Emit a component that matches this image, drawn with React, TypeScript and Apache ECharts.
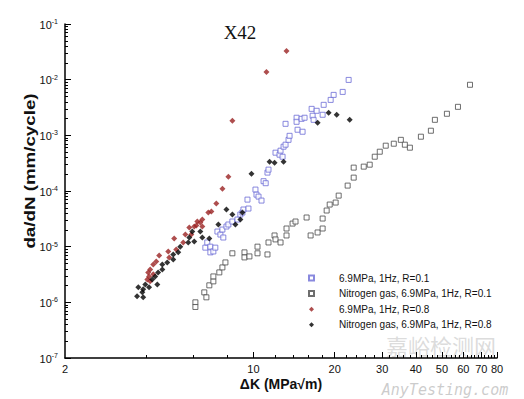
import React, { useEffect, useRef } from "react";
import * as echarts from "echarts";

// ---- data (ΔK in MPa√m, da/dN in mm/cycle) ----
const seriesNames = [
  "6.9MPa, 1Hz, R=0.1",
  "Nitrogen gas, 6.9MPa, 1Hz, R=0.1",
  "6.9MPa, 1Hz, R=0.8",
  "Nitrogen gas, 6.9MPa, 1Hz, R=0.8",
];

const h2R01: [number, number][] = [
  [6.63, 9.6e-6], [6.74, 1.19e-5], [6.92, 1.0e-5], [6.92, 7.9e-6], [7.1, 8.2e-6], [7.22, 9.6e-6],
  [7.35, 1.87e-5], [7.54, 1.65e-5], [7.67, 2.03e-5], [7.73, 1.46e-5], [7.94, 2.3e-5], [8.07, 2.5e-5],
  [8.35, 2.83e-5], [8.72, 3.07e-5], [8.94, 3.78e-5], [9.1, 4.1e-5], [9.18, 4.65e-5], [9.58, 4.84e-5],
  [9.5, 7.0e-5], [10.17, 1.06e-4], [10.26, 8.6e-5], [10.44, 7.93e-5], [10.71, 6.73e-5], [10.9, 1.5e-4],
  [11.1, 1.38e-4], [11.27, 2.14e-4], [11.37, 2.42e-4], [12.07, 4.88e-4], [12.49, 4.49e-4], [12.6, 5.3e-4],
  [12.82, 4.13e-4], [12.93, 6.25e-4], [13.15, 6.79e-4], [13.49, 8.3e-4], [13.61, 9.8e-4], [13.15, 1.61e-3],
  [14.45, 2.07e-3], [14.45, 1.75e-3], [14.57, 1.26e-3], [15.21, 1.16e-3], [15.08, 1.98e-3], [15.47, 2.07e-3],
  [16.43, 2.99e-3], [16.57, 2.25e-3], [16.71, 1.9e-3], [17.15, 2.76e-3], [18.05, 2.34e-3], [18.21, 3.53e-3],
  [19.33, 4.33e-3], [19.83, 5.33e-3], [21.42, 6.03e-3], [22.54, 9.9e-3],
];

const n2R01: [number, number][] = [
  [6.09, 1.0e-6], [6.09, 8.25e-7], [6.57, 1.51e-6], [6.69, 1.23e-6], [6.86, 2.02e-6], [7.1, 2.38e-6],
  [7.1, 2.92e-6], [7.47, 3.45e-6], [7.67, 4.24e-6], [7.87, 5.21e-6], [8.35, 7.6e-6], [9.26, 7.9e-6],
  [9.26, 6.41e-6], [9.66, 6.68e-6], [10.35, 1.0e-5], [10.35, 7.6e-6], [11.27, 7.25e-6], [11.37, 1.19e-5],
  [11.97, 1.59e-5], [12.07, 1.35e-5], [12.6, 1.19e-5], [13.26, 2.12e-5], [13.26, 1.59e-5], [13.96, 2.6e-5],
  [14.32, 2.83e-5], [15.74, 3.34e-5], [16.29, 1.59e-5], [17.29, 1.8e-5], [18.05, 2.12e-5], [18.05, 3.2e-5],
  [18.68, 4.46e-5], [19.17, 5.71e-5], [20.17, 6.2e-5], [20.7, 8.26e-5], [22.35, 1.25e-4], [23.53, 1.74e-4],
  [23.53, 2.63e-4], [25.64, 2.74e-4], [26.98, 2.97e-4], [28.17, 4.13e-4], [29.4, 5.08e-4], [30.94, 6.52e-4],
  [33.14, 7.07e-4], [35.2, 8.3e-4], [36.42, 6.79e-4], [38.02, 6.0e-4], [41.77, 9.45e-4], [45.49, 1.21e-3],
  [47.07, 1.9e-3], [52.16, 2.44e-3], [57.32, 3.25e-3], [63.52, 8.09e-3],
];

const h2R08: [number, number][] = [
  [4.04, 2.58e-6], [4.1, 2.92e-6], [4.14, 2.38e-6], [4.14, 3.9e-6], [4.07, 3.45e-6], [4.25, 3.18e-6],
  [4.25, 4.8e-6], [4.36, 5.43e-6], [4.47, 6.96e-6], [4.83, 8.2e-6], [4.87, 6.41e-6], [5.17, 8.9e-6],
  [5.08, 1.4e-5], [5.49, 1.19e-5], [5.59, 1.65e-5], [5.88, 1.65e-5], [5.78, 2.21e-5], [6.03, 2.3e-5],
  [6.14, 2.4e-5], [6.35, 2.71e-5], [6.46, 3.07e-5], [6.19, 2.83e-5], [6.46, 2.3e-5], [6.8, 4.1e-5],
  [6.98, 4.28e-5], [7.28, 5.95e-5], [7.67, 1.1e-4], [8.07, 1.81e-4], [8.35, 1.83e-3], [11.17, 1.38e-2],
  [13.26, 3.28e-2],
];

const n2R08: [number, number][] = [
  [3.7, 1.28e-6], [3.9, 1.23e-6], [3.74, 1.86e-6], [3.9, 1.71e-6], [3.87, 1.51e-6], [3.97, 2.1e-6],
  [4.1, 1.86e-6], [4.21, 2.58e-6], [4.32, 2.92e-6], [4.4, 2.1e-6], [4.43, 3.45e-6], [4.59, 3.9e-6],
  [4.59, 4.8e-6], [4.79, 5.21e-6], [5.04, 5.9e-6], [5.04, 7.25e-6], [5.26, 7.9e-6], [5.35, 1.0e-5],
  [5.73, 1.19e-5], [5.78, 1.46e-5], [5.93, 1.87e-5], [6.03, 1.24e-5], [6.35, 1.87e-5], [6.46, 1.46e-5],
  [6.86, 1.4e-5], [7.41, 2.5e-5], [7.94, 4.65e-5], [8.35, 3.78e-5], [8.57, 2.5e-5], [8.94, 3.07e-5],
  [9.1, 4.1e-5], [9.83, 2.05e-4], [11.47, 3.37e-4], [11.97, 3.23e-4], [12.93, 3.37e-4], [17.29, 1.68e-3],
  [19.0, 2.54e-3], [20.35, 2.34e-3], [22.74, 1.9e-3],
];

// axis ticks
const xMin = 2;
const xMax = 80;
const xLabelValues = [2, 10, 20, 30, 40, 50, 60, 70, 80];
const xMajorTickValues = [10, 20, 30, 40, 50, 60, 70, 80];
const xMinorTickValues = [
  4, 6, 8, 12, 14, 16, 18, 22, 24, 26, 28, 32, 34, 36, 38, 42, 44, 46, 48,
  52, 54, 56, 58, 62, 64, 66, 68, 72, 74, 76, 78,
];
const yMinExp = -7;
const yMaxExp = -1;
const yMinorMantissas = [2, 3, 4, 5, 6, 7, 8, 9];

const lg = Math.log10;
const toLog = (d: [number, number][]) => d.map(([k, v]) => [lg(k), lg(v)]);

export default function App() {
  const ref = useRef<HTMLDivElement>(null);

  useEffect(() => {
    if (!ref.current) return;
    const chart = echarts.init(ref.current, undefined, { renderer: "svg" });

    const yMinorTicks: number[] = [];
    for (let e = yMinExp; e < yMaxExp; e++) {
      yMinorMantissas.forEach((m) => yMinorTicks.push(e + lg(m)));
    }

    const font = "Liberation Sans";
    const grid = { left: 65, top: 24, width: 432, height: 334 };

    const baseX = {
      type: "value" as const,
      min: lg(xMin),
      max: lg(xMax),
      gridIndex: 0,
      position: "bottom" as const,
      splitLine: { show: false },
    };
    const baseY = {
      type: "value" as const,
      min: yMinExp,
      max: yMaxExp,
      gridIndex: 0,
      position: "left" as const,
      splitLine: { show: false },
    };

    const sq = (color: string) => ({
      type: "scatter" as const,
      symbol: "rect",
      symbolSize: 5,
      itemStyle: { color: "#ffffff", borderColor: color, borderWidth: 1 },
    });
    const dm = (color: string) => ({
      type: "scatter" as const,
      symbol: "diamond",
      symbolSize: 6,
      itemStyle: { color },
    });

    chart.setOption({
      animation: false,
      backgroundColor: "#ffffff",
      textStyle: { fontFamily: font },
      grid: { ...grid, outerBoundsMode: "none", containLabel: false },
      xAxis: [
        {
          ...baseX,
          axisLine: { show: true, lineStyle: { color: "#000", width: 1.5 } },
          axisTick: {
            show: true,
            inside: true,
            length: 6,
            customValues: xMajorTickValues.map(lg),
            lineStyle: { color: "#000", width: 1 },
          },
          axisLabel: {
            show: true,
            customValues: xLabelValues.map(lg),
            formatter: (v: number) => String(Math.round(Math.pow(10, v))),
            color: "#111",
            fontSize: 11,
            fontFamily: font,
            margin: 5,
          },
          name: "ΔK (MPa√m)",
          nameLocation: "middle",
          nameGap: 19,
          nameMoveOverlap: false,
          nameTextStyle: { fontWeight: "bold", fontSize: 14, color: "#111", fontFamily: font },
        },
        {
          ...baseX,
          axisLine: { show: false },
          axisTick: {
            show: true,
            inside: true,
            length: 3,
            customValues: xMinorTickValues.map(lg),
            lineStyle: { color: "#000", width: 1 },
          },
          axisLabel: { show: false },
        },
      ],
      yAxis: [
        {
          ...baseY,
          interval: 1,
          axisLine: { show: true, lineStyle: { color: "#000", width: 1.5 } },
          axisTick: { show: true, inside: true, length: 6, lineStyle: { color: "#000", width: 1 } },
          axisLabel: {
            show: true,
            margin: 7,
            formatter: (v: number) => `{b|10}{s|${Math.round(v)}}`,
            rich: {
              b: { fontSize: 11, lineHeight: 12, verticalAlign: "bottom", color: "#111", fontFamily: font },
              s: {
                fontSize: 7,
                lineHeight: 8,
                padding: [0, 0, 5, 0],
                verticalAlign: "bottom",
                color: "#111",
                fontFamily: font,
              },
            },
          },
        },
        {
          ...baseY,
          axisLine: { show: false },
          axisTick: {
            show: true,
            inside: true,
            length: 3,
            customValues: yMinorTicks,
            lineStyle: { color: "#000", width: 1 },
          },
          axisLabel: { show: false },
        },
      ],
      legend: {
        orient: "vertical",
        left: 308,
        top: 272,
        padding: 0,
        itemWidth: 5,
        itemHeight: 5,
        itemGap: 3.6,
        selectedMode: false,
        data: seriesNames,
        textStyle: {
          fontSize: 10,
          lineHeight: 12,
          color: "#111",
          fontFamily: font,
          padding: [0, 0, 0, 20],
        },
      },
      series: [
        { ...sq("#6c6cd6"), name: seriesNames[0], data: toLog(h2R01) },
        { ...sq("#4a4a4a"), name: seriesNames[1], data: toLog(n2R01) },
        { ...dm("#9a2222"), name: seriesNames[2], data: toLog(h2R08) },
        { ...dm("#000000"), name: seriesNames[3], data: toLog(n2R08) },
      ],
      graphic: [
        {
          type: "text",
          x: 240,
          y: 32,
          style: {
            text: "X42",
            font: '19px "Liberation Serif"',
            fill: "#111",
            align: "center",
            verticalAlign: "middle",
          },
        },
        {
          type: "text",
          x: 30,
          y: 171,
          rotation: Math.PI / 2,
          scaleX: 1.25,
          style: {
            text: "da/dN (mm/cycle)",
            font: 'bold 15px "Liberation Sans"',
            fill: "#111",
            align: "center",
            verticalAlign: "middle",
          },
        },
        {
          type: "text",
          x: 441,
          y: 345,
          z: -10,
          style: {
            text: "嘉峪检测网",
            font: '22px "Noto Sans CJK SC"',
            lineHeight: 22,
            fill: "rgba(190,190,190,0.55)",
            align: "center",
            verticalAlign: "middle",
          },
        },
        {
          type: "text",
          x: 445,
          y: 390,
          z: -10,
          style: {
            text: "AnyTesting.com",
            font: 'italic 15px "DejaVu Sans Mono"',
            lineHeight: 15,
            fill: "rgba(170,170,170,0.6)",
            align: "center",
            verticalAlign: "middle",
          },
        },
      ],
    } as any);

    return () => chart.dispose();
  }, []);

  return (
    <div
      ref={ref}
      style={{ position: "fixed", left: 0, top: 0, width: 524, height: 399, background: "#fff" }}
    />
  );
}
